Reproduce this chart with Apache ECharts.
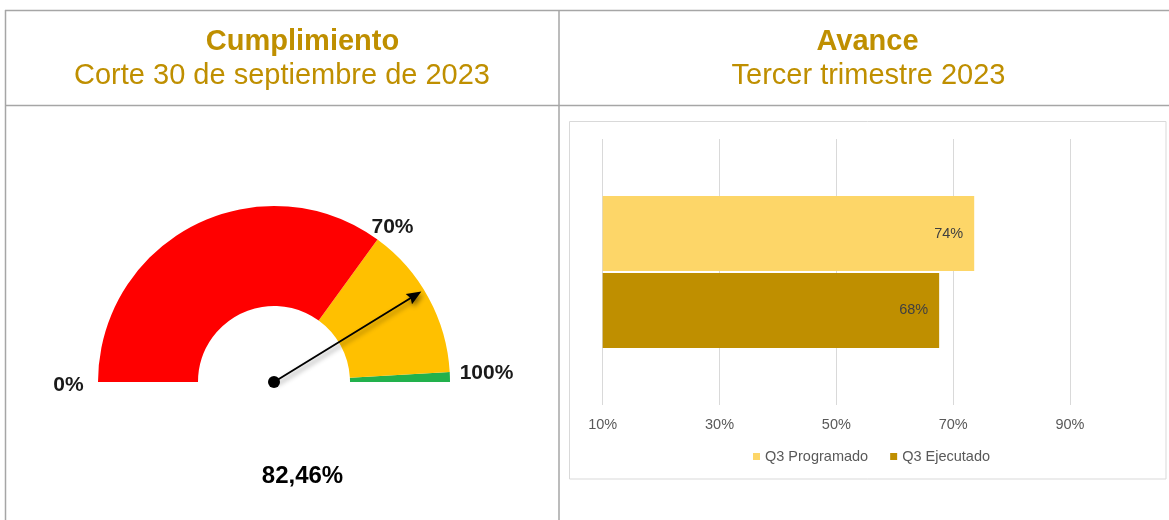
<!DOCTYPE html>
<html>
<head>
<meta charset="utf-8">
<script src="https://cdn.jsdelivr.net/npm/echarts@6/dist/echarts.min.js"></script>
<style>
  html, body { margin: 0; padding: 0; background: #fff; }
  #main { width: 1169px; height: 520px; }
</style>
</head>
<body>
<div id="main"></div>
<script>
// datos
const categorias = ['Q3'];
const nombresSeries = ['Q3 Programado', 'Q3 Ejecutado'];
const programado = [73.6];
const ejecutado = [67.6];
const ticksX = [10, 30, 50, 70, 90];

const cumplimiento = 82.46;
const cortesGauge = [70, 98.2, 100];
const coloresGauge = ['#FF0000', '#FFC000', '#22B14C'];
const etiquetasGauge = ['0%', '70%', '100%'];

const titulos = ['Cumplimiento', 'Avance'];
const subtitulos = ['Corte 30 de septiembre de 2023', 'Tercer trimestre 2023'];

const FONT = '"Liberation Sans", Arial, sans-serif';
const GOLD = '#BF8F00';
const BORDE = '#A6A6A6';

var chart = echarts.init(document.getElementById('main'));

function linea(x1, y1, x2, y2, color, w) {
  return { type: 'line', silent: true, shape: { x1: x1, y1: y1, x2: x2, y2: y2 },
    style: { stroke: color, lineWidth: w } };
}
function texto(t, x, y, size, weight, color) {
  return { type: 'text', silent: true, x: x, y: y,
    style: { text: t, fill: color, font: weight + ' ' + size + 'px ' + FONT, align: 'center', verticalAlign: 'middle' } };
}

let graficos = [
  // tabla
  linea(5, 10.5, 1169, 10.5, BORDE, 1.5),
  linea(5, 105.5, 1169, 105.5, BORDE, 1.5),
  linea(5.5, 10, 5.5, 520, BORDE, 1.5),
  linea(559, 10, 559, 520, BORDE, 1.5),
  // marco del grafico de barras
  { type: 'rect', silent: true, shape: { x: 569.5, y: 121.5, width: 596.5, height: 357.5 },
    style: { fill: null, stroke: '#D9D9D9', lineWidth: 1 } },
  // encabezados
  texto(titulos[0], 302.5, 42, 29, 'bold', GOLD),
  texto(subtitulos[0], 282, 76, 29, 'normal', GOLD),
  texto(titulos[1], 867.5, 42, 29, 'bold', GOLD),
  texto(subtitulos[1], 868.5, 76, 29, 'normal', GOLD),
  // etiquetas del medidor
  texto(etiquetasGauge[0], 68.5, 385, 21, 'bold', '#1a1a1a'),
  texto(etiquetasGauge[1], 392.5, 227, 21, 'bold', '#1a1a1a'),
  texto(etiquetasGauge[2], 486.5, 373, 21, 'bold', '#1a1a1a')
];

let option = {
  animation: false,
  graphic: graficos,
  legend: {
    data: nombresSeries,
    left: 748,
    top: 444,
    icon: 'rect',
    itemWidth: 7,
    itemHeight: 7,
    itemGap: 22,
    textStyle: { fontFamily: FONT, fontSize: 14.5, color: '#595959' }
  },
  grid: { left: 602.7, right: 99, top: 139, bottom: 115 },
  xAxis: {
    type: 'value',
    min: ticksX[0],
    max: ticksX[ticksX.length - 1],
    interval: ticksX[1] - ticksX[0],
    axisLine: { show: false },
    axisTick: { show: false },
    splitLine: { lineStyle: { color: '#D9D9D9', width: 1 } },
    axisLabel: { formatter: '{value}%', color: '#595959', fontFamily: FONT, fontSize: 14.5, margin: 12 }
  },
  yAxis: {
    type: 'category',
    data: categorias,
    axisLine: { show: false },
    axisTick: { show: false },
    axisLabel: { show: false }
  },
  series: [
    {
      name: nombresSeries[0],
      type: 'bar',
      data: programado,
      barWidth: 75,
      barGap: '2.6%',
      clip: true,
      itemStyle: { color: '#FDD668' },
      label: { show: true, position: 'insideRight', distance: 11, color: '#404040', fontFamily: FONT, fontSize: 14.5,
        formatter: p => Math.round(p.value) + '%' }
    },
    {
      name: nombresSeries[1],
      type: 'bar',
      data: ejecutado,
      barWidth: 75,
      barGap: '2.6%',
      clip: true,
      itemStyle: { color: GOLD },
      label: { show: true, position: 'insideRight', distance: 11, color: '#404040', fontFamily: FONT, fontSize: 14.5,
        formatter: p => Math.round(p.value) + '%' }
    },
    {
      type: 'gauge',
      center: [274, 382],
      radius: 176,
      startAngle: 180,
      endAngle: 0,
      min: 0,
      max: 100,
      axisLine: {
        lineStyle: {
          width: 100,
          color: cortesGauge.map((c, i) => [c / 100, coloresGauge[i]])
        }
      },
      splitLine: { show: false },
      axisTick: { show: false },
      axisLabel: { show: false },
      pointer: {
        icon: 'path://M42 1000 L42 75 L0 85 L50 0 L100 85 L58 75 L58 1000 Z',
        length: 173,
        width: 12,
        offsetCenter: [0, 0],
        itemStyle: { color: '#000', shadowColor: 'rgba(0,0,0,0.45)', shadowBlur: 5, shadowOffsetX: 2, shadowOffsetY: 3 }
      },
      anchor: { show: true, showAbove: true, size: 12, itemStyle: { color: '#000' } },
      title: { show: false },
      detail: {
        offsetCenter: [28.5, 94.5],
        fontFamily: FONT,
        fontSize: 24,
        fontWeight: 'bold',
        color: '#000',
        formatter: v => v.toFixed(2).replace('.', ',') + '%'
      },
      data: [{ value: cumplimiento }]
    }
  ]
};

chart.setOption(option);
</script>
</body>
</html>
